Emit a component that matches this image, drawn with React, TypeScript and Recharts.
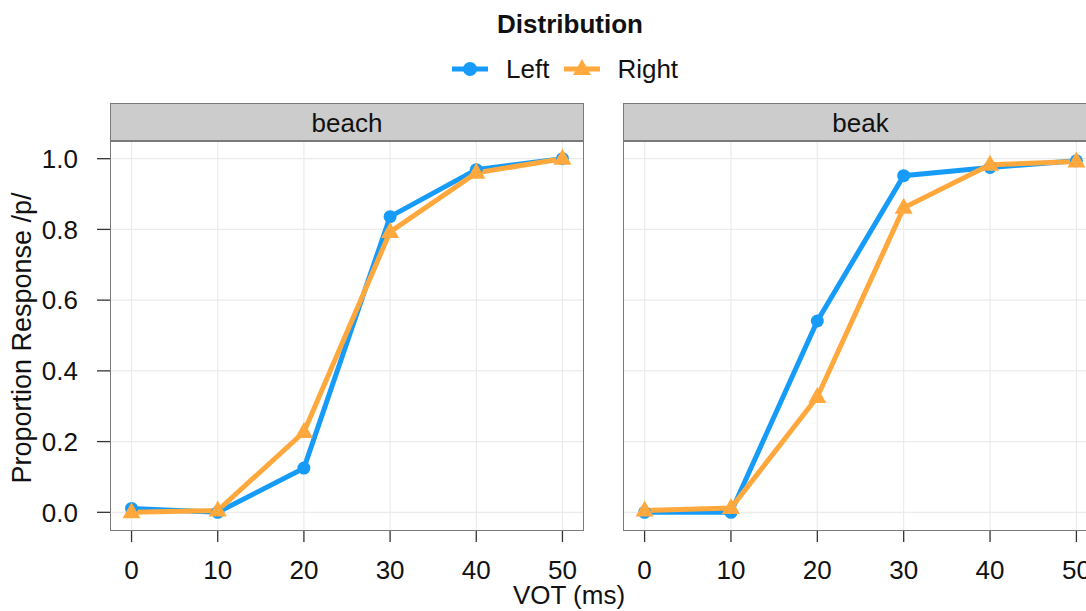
import React from 'react';
import { LineChart, Line, XAxis, YAxis, CartesianGrid } from 'recharts';

const vot = [0, 10, 20, 30, 40, 50];
const beachLeft = [0.011, 0.0, 0.125, 0.836, 0.969, 1.0];
const beachRight = [0.0, 0.005, 0.227, 0.793, 0.96, 1.0];
const beakLeft = [0.0, 0.0, 0.541, 0.952, 0.975, 0.994];
const beakRight = [0.005, 0.012, 0.326, 0.861, 0.983, 0.992];
const xTicks = [0, 10, 20, 30, 40, 50];
const yTicks = [0, 0.2, 0.4, 0.6, 0.8, 1.0];

const BLUE = '#169cf8';
const ORANGE = '#ffa83e';
const FONT = '"Liberation Sans", Arial, Helvetica, sans-serif';
const BORDER = '#7a7a7a';

const toRows = (left: number[], right: number[]) =>
  vot.map((v, i) => ({ vot: v, left: left[i], right: right[i] }));

const CircleDot = (props: any) => {
  const { cx, cy } = props;
  if (cx == null || cy == null) return null;
  return <circle cx={cx} cy={cy} r={6.5} fill={BLUE} />;
};

const TriangleDot = (props: any) => {
  const { cx, cy } = props;
  if (cx == null || cy == null) return null;
  return <polygon points={`${cx},${cy - 10} ${cx + 9},${cy + 6} ${cx - 9},${cy + 6}`} fill={ORANGE} />;
};

const tickStyle = { fill: '#111', fontSize: 26, fontFamily: FONT };

interface PanelProps {
  rows: { vot: number; left: number; right: number }[];
  showY: boolean;
  width: number;
  marginLeft: number;
  marginRight: number;
}

const Panel: React.FC<PanelProps> = ({ rows, showY, width, marginLeft, marginRight }) => (
  <LineChart
    width={width}
    height={611}
    data={rows}
    margin={{ top: 141, right: marginRight, bottom: 21, left: marginLeft }}
  >
    <CartesianGrid stroke="#ebebeb" strokeWidth={1.2} horizontalValues={yTicks} verticalValues={xTicks} />
    <XAxis
      type="number"
      dataKey="vot"
      domain={[-2.5, 52.5]}
      ticks={xTicks}
      allowDataOverflow
      axisLine={false}
      tickLine={{ stroke: '#333', strokeWidth: 1.3 }}
      tickSize={12}
      tickMargin={19}
      height={60}
      tick={tickStyle}
    />
    <YAxis
      type="number"
      domain={[-0.05, 1.05]}
      ticks={yTicks}
      allowDataOverflow
      hide={!showY}
      width={110}
      axisLine={false}
      tickLine={{ stroke: '#333', strokeWidth: 1.3 }}
      tickSize={13}
      tickMargin={19}
      tick={tickStyle}
      tickFormatter={(v: number) => v.toFixed(1)}
    />
    <Line dataKey="left" stroke={BLUE} strokeWidth={5} dot={<CircleDot />} isAnimationActive={false} />
    <Line dataKey="right" stroke={ORANGE} strokeWidth={5} dot={<TriangleDot />} isAnimationActive={false} />
  </LineChart>
);

const Strip: React.FC<{ left: number; width: number; label: string }> = ({ left, width, label }) => (
  <>
    <div
      style={{
        position: 'absolute', left, top: 103, width, height: 39, boxSizing: 'border-box',
        background: '#cccccc', border: `1px solid ${BORDER}`, borderBottomWidth: 2,
        font: `26px ${FONT}`, color: '#111', textAlign: 'center', lineHeight: '38px',
      }}
    >
      {label}
    </div>
    <div
      style={{
        position: 'absolute', left, top: 141, width, height: 390, boxSizing: 'border-box',
        border: `1.5px solid ${BORDER}`, pointerEvents: 'none',
      }}
    />
  </>
);

export default function App() {
  return (
    <div style={{ position: 'absolute', left: 0, top: 0, width: 1086, height: 611, overflow: 'hidden', background: '#fff', fontFamily: FONT }}>
      <div style={{ position: 'absolute', left: 0, top: 0 }}>
        <Panel rows={toRows(beachLeft, beachRight)} showY width={600} marginLeft={0} marginRight={16} />
      </div>
      <div style={{ position: 'absolute', left: 600, top: 0 }}>
        <Panel rows={toRows(beakLeft, beakRight)} showY={false} width={520} marginLeft={23} marginRight={22} />
      </div>
      <Strip left={110} width={474} label="beach" />
      <Strip left={623} width={475} label="beak" />

      <div style={{ position: 'absolute', left: 0, width: 1140, top: 9, lineHeight: '30px', textAlign: 'center', fontWeight: 'bold', fontSize: 26, color: '#111' }}>
        Distribution
      </div>
      <div style={{ position: 'absolute', left: 452, top: 54, height: 30, display: 'flex', alignItems: 'center', fontSize: 26, color: '#111' }}>
        <svg width={36} height={28}>
          <line x1={0} y1={14} x2={36} y2={14} stroke={BLUE} strokeWidth={5} />
          <circle cx={18} cy={14} r={7} fill={BLUE} />
        </svg>
        <span style={{ marginLeft: 18 }}>Left</span>
        <svg width={36} height={28} style={{ marginLeft: 15 }}>
          <line x1={0} y1={14} x2={36} y2={14} stroke={ORANGE} strokeWidth={5} />
          <polygon points="18,4 27,20 9,20" fill={ORANGE} />
        </svg>
        <span style={{ marginLeft: 17 }}>Right</span>
      </div>
      <div style={{ position: 'absolute', left: 469, width: 200, top: 580, lineHeight: '30px', textAlign: 'center', fontSize: 26, color: '#111' }}>
        VOT (ms)
      </div>
      <div
        style={{
          position: 'absolute', left: 22, top: 338, whiteSpace: 'nowrap', fontSize: 27, lineHeight: '30px', color: '#111',
          transform: 'translate(-50%, -50%) rotate(-90deg)',
        }}
      >
        Proportion Response /p/
      </div>
    </div>
  );
}
